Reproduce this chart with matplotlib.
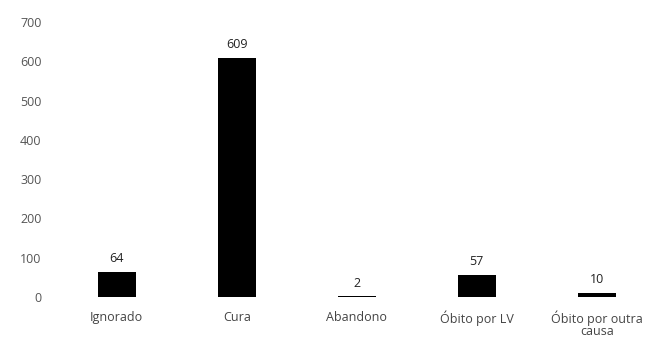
import matplotlib
matplotlib.use("Agg")
import matplotlib.pyplot as plt
import numpy as np

# Desfecho dos casos
categorias = ["Ignorado", "Cura", "Abandono", "Óbito por LV", "Óbito por outra\ncausa"]
casos = [64, 609, 2, 57, 10]
yticks = [0, 100, 200, 300, 400, 500, 600, 700]

plt.rcParams["font.family"] = ["Open Sans", "DejaVu Sans"]

fig = plt.figure(figsize=(6.6, 3.38), dpi=100)
ax = fig.add_axes([0.086, 0.121, 0.909, 0.814])

x = np.arange(len(categorias))
ax.bar(x, casos, width=0.32, color="black")

for xi, v in zip(x, casos):
    ax.text(xi, v + 17, str(v), ha="center", va="bottom", fontsize=9, color="#222222")

ax.set_xlim(-0.5, len(categorias) - 0.5)
ax.set_ylim(0, 700)
ax.set_yticks(yticks)
ax.set_yticklabels([str(t) for t in yticks], fontsize=9, color="#555555")
ax.set_xticks(x)
ax.set_xticklabels(categorias, fontsize=9, color="#444444", linespacing=0.85)

for s in ax.spines.values():
    s.set_visible(False)
ax.tick_params(axis="both", length=0)
ax.tick_params(axis="y", pad=11)
ax.tick_params(axis="x", pad=10)

fig.savefig("out.png", dpi=100, facecolor="white")
